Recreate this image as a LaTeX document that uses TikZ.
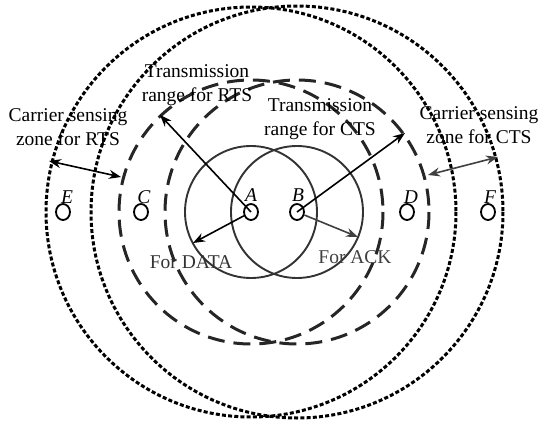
\documentclass[tikz,border=0pt]{standalone}
\usepackage{fontspec}
\setmainfont{Liberation Serif}
\usetikzlibrary{arrows.meta,shapes.geometric}
\begin{document}
\begin{tikzpicture}[x=1pt,y=-1pt,
  txt/.style={font=\fontsize{19.5}{24.5}\selectfont, align=center, inner sep=0pt},
  nodelbl/.style={font=\fontsize{19.5}{23.5}\selectfont\itshape, inner sep=0pt},
  station/.style={draw, line width=1.8pt, ellipse, minimum width=14pt, minimum height=16pt, inner sep=0pt},
  solidrange/.style={line width=1.9pt, draw=black!80},
  dashrange/.style={line width=3pt, dash pattern=on 17pt off 9pt, draw=black!85},
  dotrange/.style={line width=3pt, dash pattern=on 4pt off 2.2pt, draw=black},
  arr/.style={line width=1.6pt, -{Stealth[length=12pt,width=9pt]}},
  darr/.style={line width=1.6pt, {Stealth[length=12pt,width=9pt]}-{Stealth[length=12pt,width=9pt]}}
]
\useasboundingbox (0,0) rectangle (550,421);
% stations
\node[station] (E) at (63,212) {};
\node[station] (C) at (141,212) {};
\node[station] (A) at (251,212) {};
\node[station] (B) at (297,212) {};
\node[station] (D) at (407,212) {};
\node[station] (F) at (488,212) {};
\node[nodelbl] (lE) at (67,197) {E};
\node[nodelbl] (lC) at (144,197) {C};
\node[nodelbl] (lA) at (251,195) {A};
\node[nodelbl] (lB) at (298,195) {B};
\node[nodelbl] (lD) at (411,197) {D};
\node[nodelbl] (lF) at (490,197) {F};
% ranges
\draw[solidrange] (A.center) circle[radius=66];
\draw[solidrange] (B.center) circle[radius=66];
\draw[dashrange] (A.center) circle[radius=132];
\draw[dashrange] (B.center) circle[radius=132];
\draw[dotrange] (A.center) circle[radius=205];
\draw[dotrange] (B.center) circle[radius=206];
% arrow end points
\coordinate (rtsEnd) at (160,115);
\coordinate (ctsEnd) at (405,133);
\coordinate (dataEnd) at (193,243);
\coordinate (ackEnd) at (358,237);
\coordinate (csRa) at (49,161);
\coordinate (csRb) at (121,177);
\coordinate (csCa) at (428,175);
\coordinate (csCb) at (498,157);
\draw[arr] (A.center) -- (rtsEnd);
\draw[arr] (B.center) -- (ctsEnd);
\draw[arr] (A) -- (dataEnd);
\draw[arr, draw=black!75, fill=black!75] (B) -- (ackEnd);
\draw[darr] (csRa) -- (csRb);
\draw[darr, draw=black!75, fill=black!75] (csCa) -- (csCb);
% labels
\node[txt] (tRTS) at (197,85) {Transmission\\range for RTS};
\node[txt] (tCTS) at (320,119) {Transmission\\range for CTS};
\node[txt] (cRTS) at (68,127) {Carrier sensing\\zone for RTS};
\node[txt] (cCTS) at (479,125) {Carrier sensing\\zone for CTS};
\node[txt, text=black!80] (fData) at (191,262) {For DATA};
\node[txt, text=black!75] (fAck) at (355,257) {For ACK};
\end{tikzpicture}
\end{document}
